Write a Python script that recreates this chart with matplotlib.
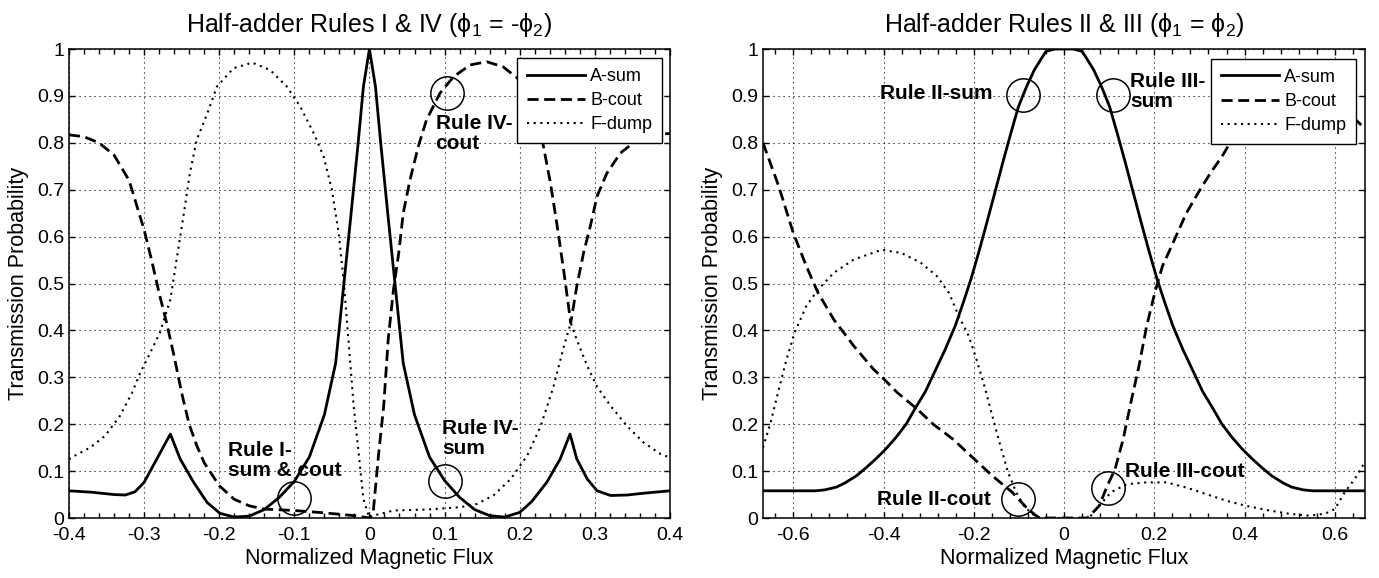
import matplotlib
matplotlib.use("Agg")
import matplotlib.pyplot as plt
from matplotlib.ticker import MultipleLocator

plt.rcParams['font.family'] = ['Liberation Sans', 'DejaVu Sans']
plt.rcParams['mathtext.fontset'] = 'custom'
plt.rcParams['mathtext.rm'] = 'Liberation Sans'
plt.rcParams['mathtext.it'] = 'Liberation Sans:italic'
plt.rcParams['axes.unicode_minus'] = False

# ---- left panel: rules I & IV ----
left_a_x = [-0.40, -0.37, -0.34, -0.325, -0.312, -0.30, -0.283, -0.265, -0.252, -0.234,
            -0.216, -0.199, -0.18, -0.16, -0.14, -0.12, -0.10, -0.08, -0.06, -0.045,
            -0.034, -0.025, -0.015, -0.008, 0.0, 0.008, 0.015, 0.025, 0.034, 0.045,
            0.06, 0.08, 0.10, 0.12, 0.14, 0.16, 0.18, 0.20, 0.216, 0.236,
            0.254, 0.267, 0.276, 0.29, 0.303, 0.321, 0.343, 0.366, 0.40]
left_a_y = [0.058, 0.055, 0.050, 0.049, 0.056, 0.076, 0.126, 0.179, 0.126, 0.076,
            0.033, 0.010, 0.002, 0.004, 0.018, 0.044, 0.078, 0.13, 0.22, 0.33,
            0.50, 0.64, 0.80, 0.92, 1.0, 0.92, 0.80, 0.64, 0.50, 0.33,
            0.22, 0.13, 0.08, 0.044, 0.018, 0.005, 0.002, 0.012, 0.035, 0.076,
            0.126, 0.179, 0.126, 0.083, 0.058, 0.048, 0.049, 0.053, 0.058]

left_b_x = [-0.40, -0.38, -0.36, -0.34, -0.32, -0.30, -0.29, -0.28, -0.27, -0.26,
            -0.25, -0.24, -0.23, -0.22, -0.20, -0.18, -0.16, -0.14, -0.10, -0.06,
            -0.02, 0.0, 0.005, 0.012, 0.019, 0.025, 0.032, 0.039, 0.045, 0.054,
            0.065, 0.076, 0.094, 0.112, 0.134, 0.156, 0.178, 0.20, 0.215, 0.23,
            0.241, 0.25, 0.259, 0.268, 0.276, 0.285, 0.294, 0.303, 0.316, 0.334,
            0.356, 0.379, 0.40]
left_b_y = [0.817, 0.813, 0.80, 0.774, 0.72, 0.615, 0.55, 0.48, 0.416, 0.345,
            0.267, 0.20, 0.155, 0.118, 0.069, 0.04, 0.026, 0.019, 0.016, 0.011,
            0.005, 0.0, 0.012, 0.133, 0.239, 0.381, 0.487, 0.565, 0.65, 0.721,
            0.792, 0.849, 0.906, 0.941, 0.966, 0.973, 0.962, 0.934, 0.88, 0.806,
            0.714, 0.622, 0.523, 0.416, 0.494, 0.565, 0.622, 0.686, 0.735, 0.778,
            0.806, 0.817, 0.82]

left_f_x = [-0.40, -0.392, -0.372, -0.352, -0.332, -0.316, -0.305, -0.294, -0.279, -0.265,
            -0.256, -0.247, -0.239, -0.23, -0.216, -0.203, -0.181, -0.156, -0.132, -0.11,
            -0.092, -0.074, -0.061, -0.05, -0.041, -0.034, -0.028, -0.021, -0.014, -0.008,
            0.0, 0.005, 0.032, 0.076, 0.121, 0.143, 0.165, 0.188, 0.21, 0.228,
            0.245, 0.259, 0.268, 0.276, 0.29, 0.303, 0.321, 0.343, 0.365, 0.388, 0.40]
left_f_y = [0.125, 0.133, 0.150, 0.175, 0.218, 0.267, 0.31, 0.345, 0.395, 0.466,
            0.558, 0.65, 0.735, 0.806, 0.862, 0.92, 0.959, 0.971, 0.955, 0.92,
            0.877, 0.82, 0.771, 0.70, 0.608, 0.501, 0.381, 0.239, 0.133, 0.04,
            0.0, 0.005, 0.016, 0.018, 0.023, 0.03, 0.048, 0.083, 0.133, 0.196,
            0.28, 0.367, 0.416, 0.38, 0.324, 0.28, 0.239, 0.196, 0.161, 0.136, 0.129]

# ---- right panel: rules II & III ----
right_a_x = [-0.667, -0.60, -0.55, -0.53, -0.504, -0.485, -0.46, -0.44, -0.417, -0.395,
             -0.373, -0.35, -0.329, -0.307, -0.285, -0.263, -0.241, -0.223, -0.206, -0.188,
             -0.171, -0.153, -0.136, -0.118, -0.101, -0.083, -0.066, -0.05, -0.04, -0.02,
             0.02, 0.04, 0.05, 0.066, 0.083, 0.101, 0.118, 0.136, 0.153, 0.171,
             0.188, 0.206, 0.223, 0.241, 0.263, 0.285, 0.307, 0.329, 0.35, 0.373,
             0.395, 0.417, 0.44, 0.46, 0.485, 0.504, 0.53, 0.55, 0.60, 0.667]
right_a_y = [0.058, 0.058, 0.058, 0.060, 0.066, 0.075, 0.09, 0.106, 0.126, 0.147,
             0.171, 0.20, 0.235, 0.27, 0.315, 0.36, 0.41, 0.46, 0.51, 0.57,
             0.63, 0.695, 0.757, 0.82, 0.877, 0.92, 0.955, 0.98, 0.995, 1.0,
             1.0, 0.995, 0.98, 0.955, 0.92, 0.877, 0.82, 0.757, 0.695, 0.63,
             0.57, 0.51, 0.46, 0.41, 0.36, 0.315, 0.27, 0.235, 0.20, 0.171,
             0.147, 0.126, 0.106, 0.09, 0.075, 0.066, 0.060, 0.058, 0.058, 0.058]

right_b_x = [-0.667, -0.632, -0.60, -0.571, -0.545, -0.51, -0.466, -0.422, -0.403, -0.369,
             -0.325, -0.29, -0.246, -0.207, -0.159, -0.115, -0.08, -0.062, -0.054, 0.052,
             0.078, 0.096, 0.113, 0.131, 0.148, 0.166, 0.183, 0.201, 0.218, 0.245,
             0.271, 0.297, 0.324, 0.35, 0.368, 0.40, 0.45, 0.50, 0.55, 0.60,
             0.64, 0.667]
right_b_y = [0.80, 0.707, 0.608, 0.537, 0.48, 0.423, 0.367, 0.317, 0.30, 0.267,
             0.232, 0.20, 0.168, 0.133, 0.09, 0.055, 0.019, 0.005, 0.0, 0.0,
             0.026, 0.069, 0.104, 0.168, 0.246, 0.324, 0.409, 0.48, 0.537, 0.594,
             0.65, 0.693, 0.735, 0.771, 0.80, 0.83, 0.855, 0.87, 0.875, 0.87,
             0.855, 0.83]

right_f_x = [-0.667, -0.65, -0.632, -0.615, -0.597, -0.571, -0.545, -0.51, -0.466, -0.404,
             -0.36, -0.317, -0.282, -0.255, -0.233, -0.211, -0.194, -0.176, -0.159, -0.141,
             -0.124, -0.106, -0.089, -0.071, -0.054, 0.055, 0.078, 0.104, 0.139, 0.183,
             0.227, 0.271, 0.315, 0.359, 0.403, 0.455, 0.499, 0.543, 0.578, 0.60,
             0.622, 0.644, 0.667]
right_f_y = [0.15, 0.204, 0.274, 0.338, 0.395, 0.452, 0.487, 0.523, 0.551, 0.572,
             0.565, 0.544, 0.516, 0.48, 0.43, 0.388, 0.338, 0.28, 0.218, 0.154,
             0.097, 0.055, 0.026, 0.009, 0.0, 0.0, 0.026, 0.055, 0.072, 0.076,
             0.076, 0.065, 0.051, 0.037, 0.026, 0.016, 0.009, 0.005, 0.009, 0.019,
             0.055, 0.083, 0.12]

series_names = ['A-sum', 'B-cout', 'F-dump']

left_circles = [(-0.1, 0.042), (0.103, 0.907), (0.101, 0.079)]
right_circles = [(-0.092, 0.902), (0.108, 0.902), (-0.103, 0.04), (0.098, 0.065)]

left_xticks = [-0.4, -0.3, -0.2, -0.1, 0, 0.1, 0.2, 0.3, 0.4]
right_xticks = [-0.6, -0.4, -0.2, 0, 0.2, 0.4, 0.6]
yticks = [0, 0.1, 0.2, 0.3, 0.4, 0.5, 0.6, 0.7, 0.8, 0.9, 1]


def fmt(v):
    return ('%g' % v)


def style_axes(ax, xlim, xticks, minor_step, title):
    ax.set_xlim(*xlim)
    ax.set_ylim(0, 1)
    ax.set_xticks(xticks)
    ax.set_xticklabels([fmt(v) for v in xticks])
    ax.set_yticks(yticks)
    ax.set_yticklabels([fmt(v) for v in yticks])
    ax.xaxis.set_minor_locator(MultipleLocator(minor_step))
    ax.tick_params(which='both', direction='in', top=True, right=True, width=1,
                   labelsize=14)
    ax.tick_params(axis='x', pad=6.5)
    ax.tick_params(axis='y', pad=3.5)
    ax.tick_params(which='major', length=4.5)
    ax.tick_params(which='minor', length=3.5)
    ax.grid(True, which='major', color='k', linestyle=(0, (1, 3.5)), linewidth=0.8)
    for s in ax.spines.values():
        s.set_linewidth(1.1)
    ax.set_xlabel('Normalized Magnetic Flux', fontsize=15.5, labelpad=3)
    ax.set_ylabel('Transmission Probability', fontsize=15.5, labelpad=6)
    ax.set_title(title, fontsize=18, pad=12)


def draw(ax, ax_x, ax_y, bx, by, fx, fy):
    ax.plot(ax_x, ax_y, color='k', lw=2, label=series_names[0])
    ax.plot(bx, by, color='k', lw=2, linestyle=(0, (4, 2)), label=series_names[1])
    ax.plot(fx, fy, color='k', lw=1.5, linestyle=(0, (1, 2.2)), label=series_names[2])


fig = plt.figure(figsize=(13.79, 5.78), dpi=100)
ax1 = fig.add_axes([0.0500, 0.1038, 0.4358, 0.8114])
ax2 = fig.add_axes([0.5533, 0.1038, 0.4366, 0.8114])

draw(ax1, left_a_x, left_a_y, left_b_x, left_b_y, left_f_x, left_f_y)
draw(ax2, right_a_x, right_a_y, right_b_x, right_b_y, right_f_x, right_f_y)

style_axes(ax1, (-0.4, 0.4), left_xticks, 0.02,
           'Half-adder Rules I & IV (ϕ$_1$ = -ϕ$_2$)')
style_axes(ax2, (-0.667, 0.667), right_xticks, 0.04,
           'Half-adder Rules II & III (ϕ$_1$ = ϕ$_2$)')

for cx, cy in left_circles:
    ax1.plot(cx, cy, marker='o', ms=24, mfc='none', mec='k', mew=1.1)
for cx, cy in right_circles:
    ax2.plot(cx, cy, marker='o', ms=24, mfc='none', mec='k', mew=1.1)

tk = dict(fontsize=15, fontweight='bold', linespacing=1.1)
ax1.text(-0.188, 0.165, 'Rule I-\nsum & cout', ha='left', va='top', **tk)
ax1.text(0.088, 0.862, 'Rule IV-\ncout', ha='left', va='top', **tk)
ax1.text(0.097, 0.212, 'Rule IV-\nsum', ha='left', va='top', **tk)
ax2.text(-0.158, 0.905, 'Rule II-sum', ha='right', va='center', **tk)
ax2.text(0.146, 0.951, 'Rule III-\nsum', ha='left', va='top', **tk)
ax2.text(-0.163, 0.04, 'Rule II-cout', ha='right', va='center', **tk)
ax2.text(0.135, 0.10, 'Rule III-cout', ha='left', va='center', **tk)

for ax, anchor in ((ax1, (0.987, 0.981)), (ax2, (0.985, 0.979))):
    leg = ax.legend(loc='upper right', bbox_to_anchor=anchor, borderaxespad=0,
                    fontsize=13, handlelength=3.2, handletextpad=0.3,
                    labelspacing=0.4, borderpad=0.55, fancybox=False,
                    framealpha=1, edgecolor='k')
    leg.get_frame().set_linewidth(1.0)

fig.savefig('out.png', dpi=100)
